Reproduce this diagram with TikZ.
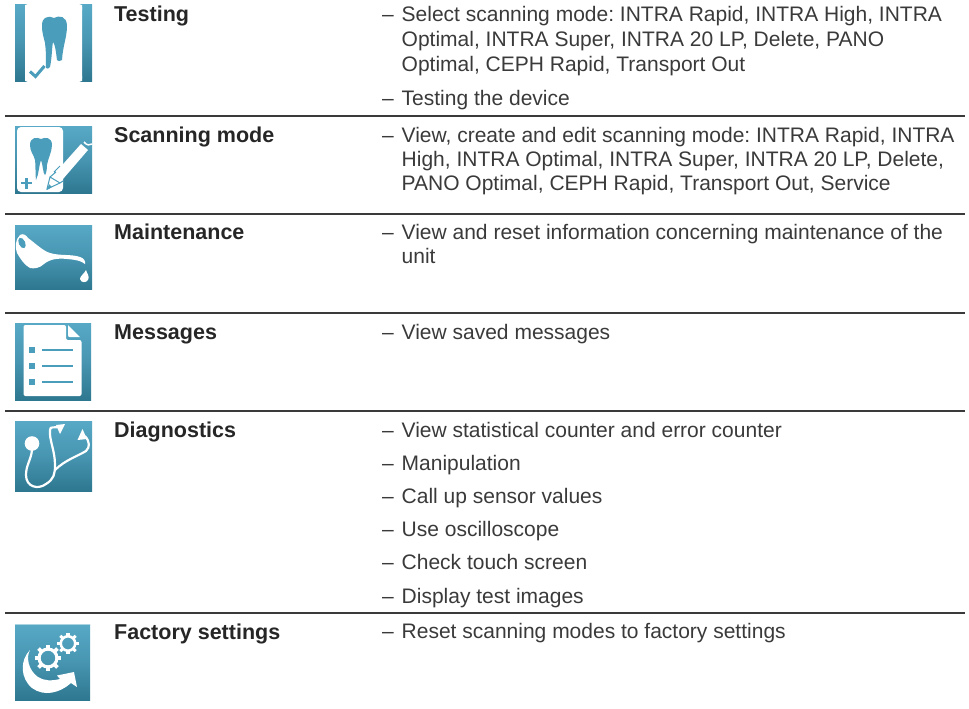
\documentclass[tikz,border=0pt]{standalone}
\usepackage{fontspec}
\setmainfont{Liberation Sans}
\usetikzlibrary{calc}
\definecolor{icontop}{HTML}{57A9C6}
\definecolor{iconmid}{HTML}{4795B1}
\definecolor{iconbot}{HTML}{2E7790}
\definecolor{iconblue}{HTML}{4A9EBC}
\definecolor{rulecol}{HTML}{3A3A3A}
\definecolor{txt}{HTML}{3A3A3A}
\definecolor{headtxt}{HTML}{262626}
\newcommand{\iconbg}[4]{\shade[top color=icontop,bottom color=iconbot,middle color=iconmid] (#1,#2) rectangle (#3,#4);}
\newcommand{\cogwheel}[3]{%
  \draw[white,line width=#3*0.3pt] (#1,#2) circle[radius=#3*0.85];
  \foreach \a in {0,45,...,315}{\draw[white,line width=#3*0.36pt] ($(#1,#2)+(\a:#3*0.9)$) -- ($(#1,#2)+(\a:#3*1.27)$);}}
\newcommand{\itemdash}{\llap{–\hspace{8pt}}}
\tikzset{
  head/.style={anchor=base west,font=\fontsize{21.5}{24}\selectfont\bfseries\frenchspacing,text=headtxt,inner sep=0pt},
  item/.style={anchor=base west,font=\fontsize{21}{24}\selectfont\frenchspacing,text=txt,inner sep=0pt},
  sep/.style={rulecol,line width=1.3pt},
}
\begin{document}
\begin{tikzpicture}[x=1pt,y=-1pt]
\useasboundingbox (0,0) rectangle (969,709);
% rules
\foreach \yy in {116,214,313,411,613}{\draw[sep] (5,\yy) -- (965,\yy);}
% Testing icon
\iconbg{15}{5}{92}{81}
\fill[white,rounded corners=3pt] (25,4) rectangle (82,82);
\fill[white] (25,5) rectangle (30,10) (77,5) rectangle (82,10) (25,76) rectangle (30,81) (77,76) rectangle (82,81);
\fill[iconblue] (42,27) .. controls (41,17) and (49,15) .. (54,18) .. controls (59,15) and (67,16) .. (67,26) .. controls (67,37) and (63,45) .. (62,60) .. controls (60,61.5) and (58,61.5) .. (57,60) .. controls (56,52) and (55,44) .. (53,42) .. controls (52,46) and (52,58) .. (50,67) .. controls (49,69) and (47,69) .. (46,68) .. controls (46,58) and (46,50) .. (45,43) .. controls (44,38) and (42,33) .. (42,27) -- cycle;
\draw[iconblue,line width=3pt] (30,71.5) -- (35.5,76.5) -- (44.5,66);
% Scanning mode icon
\iconbg{15}{126}{92}{193}
\fill[white,rounded corners=4pt] (17,127) rectangle (63,192);
\fill[iconblue] (30,145) .. controls (30,137) and (37,137) .. (41,139) .. controls (45,137) and (52,137) .. (52,145) .. controls (52,152) and (48,158) .. (47,165) .. controls (47,170) and (46,174) .. (45,175) .. controls (43,174) and (43,165) .. (41,160) .. controls (39,165) and (39,174) .. (36,180) .. controls (35,174) and (36,165) .. (35,160) .. controls (34,155) and (30,152) .. (30,145) -- cycle;
\draw[iconblue,line width=2.6pt] (21,183) -- (32,183) (26.5,178) -- (26.5,188.5);
\fill[white] (56,172) -- (81,144) -- (88,150) -- (63,179) -- cycle;
\draw[white,line width=1.5pt] (84,142) .. controls (87,146) and (90,145) .. (92,144);
\fill[white] (47,190) -- (50,177) -- (60,184) -- cycle;
\draw[iconblue,line width=1pt] (54,172) -- (60,166) (47,189) -- (50,177) -- (60,183) -- cycle (50,177) -- (56,172) (60,183) -- (63,181);
\fill[iconblue] (47,190) -- (49,184) -- (52,187) -- cycle;
% Maintenance icon
\iconbg{15}{225}{92}{289}
\fill[white] (28,238) .. controls (35,243) and (43,251) .. (50,253) .. controls (60,256) and (72,254) .. (80,257) .. controls (84,258) and (86,262) .. (85,264) .. controls (82,262) and (80,260) .. (67,259) .. controls (58,258) and (50,259) .. (44,264) .. controls (40,268) and (34,269) .. (30,268) .. controls (24,265) and (20,258) .. (17,253) .. controls (15,247) and (15,240) .. (20,235) .. controls (23,233) and (26,235) .. (28,238) -- cycle;
\fill[iconblue,rotate around={25:(22,243)}] (22,243) ellipse[x radius=3.2,y radius=5.6];
\fill[white] (86,270) .. controls (87,274) and (90,276) .. (88,280) .. controls (86,283) and (81,283) .. (80,279) .. controls (80,276) and (84,274) .. (86,270) -- cycle;
% Messages icon
\iconbg{15}{323}{91}{400}
\fill[white,rounded corners=2pt] (23.5,325) -- (66,325) -- (66,340) -- (81.5,340) -- (81.5,396) -- (23.5,396) -- cycle;
\fill[white] (68,325) -- (68,335) .. controls (68,337) and (69,337) .. (70,337) -- (80,337) -- cycle;
\foreach \yy in {350,366,382}{
  \fill[iconblue] (28.5,\yy-3) rectangle (34.5,\yy+3);
  \draw[iconblue,line width=1.8pt] (42,\yy) -- (73,\yy);
}
% Diagnostics icon
\iconbg{15}{421}{92}{491}
\fill[white] (32,443.5) circle[radius=7.3];
\draw[white,line width=2.2pt] (32,450) .. controls (31,460) and (26,465) .. (26,475) .. controls (26,487) and (38,490) .. (46,484) .. controls (54,479) and (55,474) .. (55,465) .. controls (55,450) and (49,440) .. (50,430) .. controls (50,426) and (54,428) .. (59,427);
\draw[white,line width=2.2pt] (55,470) .. controls (65,460) and (78,456) .. (86,451) .. controls (90,447) and (90,442) .. (85,436);
\fill[white] (65,424) -- (56,425) -- (60,434) -- cycle;
\fill[white] (82.5,429) -- (77.5,440) -- (87,439) -- cycle;
% Factory settings icon
\iconbg{15}{624}{90}{700}
\fill[white,opacity=.5] (15,624) rectangle (90,625);
\cogwheel{68}{643.5}{8.5}
\cogwheel{48}{658}{10.5}
\fill[white] (30,650) .. controls (26,657) and (28,670) .. (38,677) .. controls (44,681) and (52,681) .. (60,679) -- (57,675.5) -- (74,672) -- (77,687) -- (71,683) .. controls (60,693) and (44,697) .. (32,688) .. controls (20,678) and (20,660) .. (30,650) -- cycle;
% Texts
\node[head] (t1) at (114,21.5) {Testing};
\node[item] (a1) at (401.5,22) {\itemdash Select scanning mode: INTRA Rapid, INTRA High, INTRA};
\node[item] (a2) at (401.5,47) {Optimal, INTRA Super, INTRA 20 LP, Delete, PANO};
\node[item] (a3) at (401.5,71.5) {Optimal, CEPH Rapid, Transport Out};
\node[item] (a4) at (401.5,105) {\itemdash Testing the device};
\node[head] (t2) at (114,142) {Scanning mode};
\node[item] (b1) at (401.5,142) {\itemdash View, create and edit scanning mode: INTRA Rapid, INTRA};
\node[item] (b2) at (401.5,166) {High, INTRA Optimal, INTRA Super, INTRA 20 LP, Delete,};
\node[item] (b3) at (401.5,190) {PANO Optimal, CEPH Rapid, Transport Out, Service};
\node[head] (t3) at (114,239) {Maintenance};
\node[item] (c1) at (401.5,239) {\itemdash View and reset information concerning maintenance of the};
\node[item] (c2) at (401.5,263) {unit};
\node[head] (t4) at (114,339) {Messages};
\node[item] (d1) at (401.5,339) {\itemdash View saved messages};
\node[head] (t5) at (114,437) {Diagnostics};
\node[item] (e1) at (401.5,437) {\itemdash View statistical counter and error counter};
\node[item] (e2) at (401.5,470) {\itemdash Manipulation};
\node[item] (e3) at (401.5,503) {\itemdash Call up sensor values};
\node[item] (e4) at (401.5,536) {\itemdash Use oscilloscope};
\node[item] (e5) at (401.5,569.5) {\itemdash Check touch screen};
\node[item] (e6) at (401.5,603) {\itemdash Display test images};
\node[head] (t6) at (114,639) {Factory settings};
\node[item] (f1) at (401.5,638.5) {\itemdash Reset scanning modes to factory settings};
\end{tikzpicture}
\end{document}
